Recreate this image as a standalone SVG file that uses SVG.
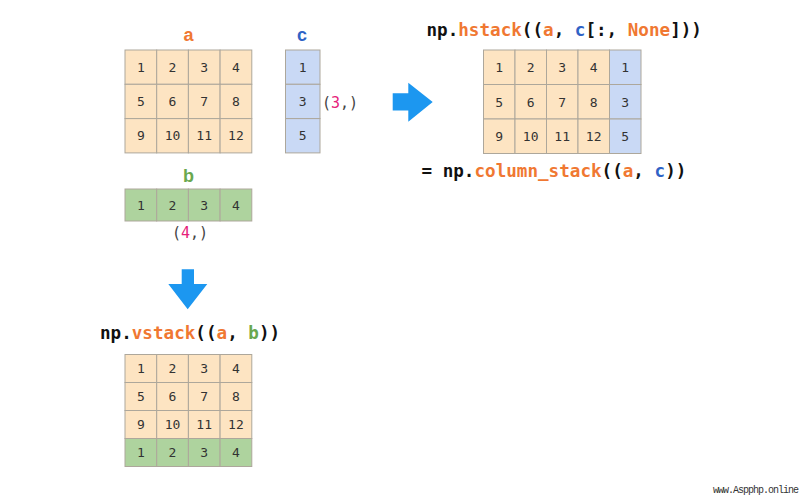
<svg xmlns="http://www.w3.org/2000/svg" width="800" height="496" viewBox="0 0 800 496">
<style>
.o{fill:#FDE4C2;stroke:#ADA79B;stroke-width:1}
.bl{fill:#C9D9F5;stroke:#ADA79B;stroke-width:1}
.g{fill:#AED39E;stroke:#ADA79B;stroke-width:1}
.n{font-family:"DejaVu Sans Mono","Liberation Mono",monospace;font-size:13px;fill:#333;text-anchor:middle}
.lbl{font-family:"Liberation Sans",Arial,sans-serif;font-weight:bold;font-size:18px;text-anchor:middle}
.code{font-family:"DejaVu Sans Mono","Liberation Mono",monospace;font-size:17.6px;font-weight:bold;fill:#111}
.sh{font-family:"DejaVu Sans Mono","Liberation Mono",monospace;font-size:15px;fill:#444}
.or{fill:#F07832}
.bu{fill:#2F63C6}
.gr{fill:#6AA84F}
.pk{fill:#E6217A}
.arr{fill:#1C97F0}
</style>
<rect width="800" height="496" fill="#fff"/>

<g id="a">
<text class="lbl or" x="188.5" y="41">a</text>
<rect class="o" x="125" y="50" width="31.7" height="34.3"/>
<rect class="o" x="156.7" y="50" width="31.7" height="34.3"/>
<rect class="o" x="188.4" y="50" width="31.7" height="34.3"/>
<rect class="o" x="220.1" y="50" width="31.7" height="34.3"/>
<rect class="o" x="125" y="84.3" width="31.7" height="34.3"/>
<rect class="o" x="156.7" y="84.3" width="31.7" height="34.3"/>
<rect class="o" x="188.4" y="84.3" width="31.7" height="34.3"/>
<rect class="o" x="220.1" y="84.3" width="31.7" height="34.3"/>
<rect class="o" x="125" y="118.6" width="31.7" height="34.3"/>
<rect class="o" x="156.7" y="118.6" width="31.7" height="34.3"/>
<rect class="o" x="188.4" y="118.6" width="31.7" height="34.3"/>
<rect class="o" x="220.1" y="118.6" width="31.7" height="34.3"/>
<text class="n" x="140.8" y="71.7">1</text><text class="n" x="172.5" y="71.7">2</text><text class="n" x="204.2" y="71.7">3</text><text class="n" x="235.9" y="71.7">4</text>
<text class="n" x="140.8" y="106">5</text><text class="n" x="172.5" y="106">6</text><text class="n" x="204.2" y="106">7</text><text class="n" x="235.9" y="106">8</text>
<text class="n" x="140.8" y="140.3">9</text><text class="n" x="172.5" y="140.3">10</text><text class="n" x="204.2" y="140.3">11</text><text class="n" x="235.9" y="140.3">12</text>
</g>

<g id="c">
<text class="lbl bu" x="302" y="41">c</text>
<rect class="bl" x="285.5" y="50" width="34.5" height="34.3"/>
<rect class="bl" x="285.5" y="84.3" width="34.5" height="34.3"/>
<rect class="bl" x="285.5" y="118.6" width="34.5" height="34.3"/>
<text class="n" x="302.7" y="71.7">1</text>
<text class="n" x="302.7" y="106">3</text>
<text class="n" x="302.7" y="140.3">5</text>
<text class="sh" x="322" y="107.5">(<tspan class="pk">3</tspan>,)</text>
</g>

<g id="b">
<text class="lbl gr" x="188.5" y="182">b</text>
<rect class="g" x="125" y="189" width="31.7" height="32"/>
<rect class="g" x="156.7" y="189" width="31.7" height="32"/>
<rect class="g" x="188.4" y="189" width="31.7" height="32"/>
<rect class="g" x="220.1" y="189" width="31.7" height="32"/>
<text class="n" x="140.8" y="209.5">1</text><text class="n" x="172.5" y="209.5">2</text><text class="n" x="204.2" y="209.5">3</text><text class="n" x="235.9" y="209.5">4</text>
<text class="sh" x="172" y="238">(<tspan class="pk">4</tspan>,)</text>
</g>

<g id="hstack">
<text class="code" x="426.5" y="36">np.<tspan class="or">hstack</tspan>((<tspan class="or">a</tspan>, <tspan class="bu">c</tspan>[:, <tspan class="or">None</tspan>]))</text>
<rect class="o" x="483.5" y="50" width="31.5" height="34.5"/>
<rect class="o" x="515" y="50" width="31.5" height="34.5"/>
<rect class="o" x="546.5" y="50" width="31.5" height="34.5"/>
<rect class="o" x="578" y="50" width="31.5" height="34.5"/>
<rect class="bl" x="609.5" y="50" width="31.5" height="34.5"/>
<rect class="o" x="483.5" y="84.5" width="31.5" height="34.5"/>
<rect class="o" x="515" y="84.5" width="31.5" height="34.5"/>
<rect class="o" x="546.5" y="84.5" width="31.5" height="34.5"/>
<rect class="o" x="578" y="84.5" width="31.5" height="34.5"/>
<rect class="bl" x="609.5" y="84.5" width="31.5" height="34.5"/>
<rect class="o" x="483.5" y="119" width="31.5" height="34.5"/>
<rect class="o" x="515" y="119" width="31.5" height="34.5"/>
<rect class="o" x="546.5" y="119" width="31.5" height="34.5"/>
<rect class="o" x="578" y="119" width="31.5" height="34.5"/>
<rect class="bl" x="609.5" y="119" width="31.5" height="34.5"/>
<text class="n" x="499.2" y="72">1</text><text class="n" x="530.7" y="72">2</text><text class="n" x="562.2" y="72">3</text><text class="n" x="593.7" y="72">4</text><text class="n" x="625.2" y="72">1</text>
<text class="n" x="499.2" y="106.5">5</text><text class="n" x="530.7" y="106.5">6</text><text class="n" x="562.2" y="106.5">7</text><text class="n" x="593.7" y="106.5">8</text><text class="n" x="625.2" y="106.5">3</text>
<text class="n" x="499.2" y="141">9</text><text class="n" x="530.7" y="141">10</text><text class="n" x="562.2" y="141">11</text><text class="n" x="593.7" y="141">12</text><text class="n" x="625.2" y="141">5</text>
<text class="code" x="421.5" y="177">= np.<tspan class="or">column_stack</tspan>((<tspan class="or">a</tspan>, <tspan class="bu">c</tspan>))</text>
</g>

<g id="vstack">
<text class="code" x="100" y="338.5">np.<tspan class="or">vstack</tspan>((<tspan class="or">a</tspan>, <tspan class="gr">b</tspan>))</text>
<rect class="o" x="125" y="354.5" width="31.7" height="28"/>
<rect class="o" x="156.7" y="354.5" width="31.7" height="28"/>
<rect class="o" x="188.4" y="354.5" width="31.7" height="28"/>
<rect class="o" x="220.1" y="354.5" width="31.7" height="28"/>
<rect class="o" x="125" y="382.5" width="31.7" height="28"/>
<rect class="o" x="156.7" y="382.5" width="31.7" height="28"/>
<rect class="o" x="188.4" y="382.5" width="31.7" height="28"/>
<rect class="o" x="220.1" y="382.5" width="31.7" height="28"/>
<rect class="o" x="125" y="410.5" width="31.7" height="28"/>
<rect class="o" x="156.7" y="410.5" width="31.7" height="28"/>
<rect class="o" x="188.4" y="410.5" width="31.7" height="28"/>
<rect class="o" x="220.1" y="410.5" width="31.7" height="28"/>
<rect class="g" x="125" y="438.5" width="31.7" height="28"/>
<rect class="g" x="156.7" y="438.5" width="31.7" height="28"/>
<rect class="g" x="188.4" y="438.5" width="31.7" height="28"/>
<rect class="g" x="220.1" y="438.5" width="31.7" height="28"/>
<text class="n" x="140.8" y="373">1</text><text class="n" x="172.5" y="373">2</text><text class="n" x="204.2" y="373">3</text><text class="n" x="235.9" y="373">4</text>
<text class="n" x="140.8" y="401">5</text><text class="n" x="172.5" y="401">6</text><text class="n" x="204.2" y="401">7</text><text class="n" x="235.9" y="401">8</text>
<text class="n" x="140.8" y="429">9</text><text class="n" x="172.5" y="429">10</text><text class="n" x="204.2" y="429">11</text><text class="n" x="235.9" y="429">12</text>
<text class="n" x="140.8" y="457">1</text><text class="n" x="172.5" y="457">2</text><text class="n" x="204.2" y="457">3</text><text class="n" x="235.9" y="457">4</text>
</g>

<g id="connectors">
<polygon class="arr" points="392.7,93.3 408.3,93.3 408.3,82.7 432.7,102 408.3,121.7 408.3,110.5 392.7,110.5"/>
<polygon class="arr" points="181.7,269.3 194,269.3 194,284 207.3,284 187.7,309.3 168.3,284 181.7,284"/>
</g>

<text x="713" y="493" font-family="Liberation Mono,monospace" font-size="10" textLength="86" fill="#333">www.Aspphp.online</text>
</svg>
